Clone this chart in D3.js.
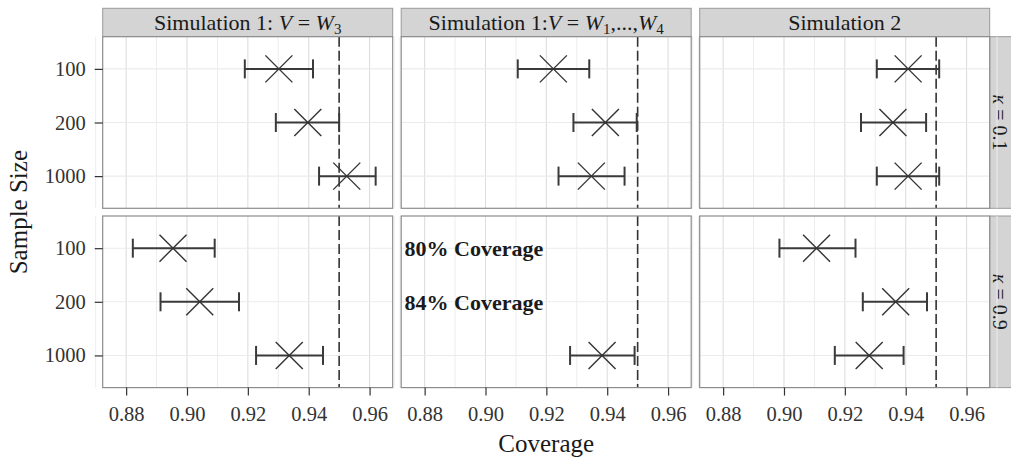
<!DOCTYPE html>
<html>
<head>
<meta charset="utf-8">
<script src="https://cdn.jsdelivr.net/npm/d3@7"></script>
<style>
  body { margin: 0; background: #fff; }
  svg text { font-family: "Liberation Serif", "DejaVu Serif", serif; }
</style>
</head>
<body>
<div id="chart"></div>
<script>
// sample sizes (y categories, top to bottom)
var sizes = ["100", "200", "1000"];
// facet columns and rows
var columns = ["sim1V3", "sim1V14", "sim2"];
var kappas = ["0.1", "0.9"];
var xTicks = [0.88, 0.90, 0.92, 0.94, 0.96];
var nominal = 0.95;

// kappa = 0.1, one array per column, values in the order of sizes
var estK01 = [[0.9302, 0.9397, 0.9525], [0.9223, 0.9394, 0.9348], [0.9408, 0.9358, 0.9408]];
var lowK01 = [[0.9190, 0.9292, 0.9434], [0.9106, 0.9289, 0.9240], [0.9305, 0.9253, 0.9305]];
var highK01 = [[0.9414, 0.9500, 0.9620], [0.9341, 0.9497, 0.9457], [0.9510, 0.9467, 0.9510]];
// kappa = 0.9
var estK09 = [[0.8954, 0.9042, 0.9336], [null, null, 0.9383], [0.9107, 0.9367, 0.9280]];
var lowK09 = [[0.8822, 0.8913, 0.9227], [null, null, 0.9278], [0.8985, 0.9259, 0.9167]];
var highK09 = [[0.9091, 0.9171, 0.9447], [null, null, 0.9490], [0.9235, 0.9470, 0.9393]];

// notes written in the empty rows of the middle bottom panel
var noteText = ["80% Coverage", "84% Coverage"];
var noteSize = ["100", "200"];

var W = 1011, H = 464;
var leftX = 102.7, topY = 8.3, stripH = 28.4;
var panelW = 290, gapX = 8.5, panelH = 171.6, gapY = 7.7, rStripW = 22;
var serif = "'Liberation Serif', 'DejaVu Serif', serif";

var svg = d3.select("#chart").append("svg")
    .attr("width", W)
    .attr("height", H)
    .attr("font-family", serif);

var rows = [
  {kappa: kappas[0], est: estK01, low: lowK01, high: highK01},
  {kappa: kappas[1], est: estK09, low: lowK09, high: highK09}
];

function panelX(c) { return leftX + c * (panelW + gapX); }
function panelY(r) { return topY + stripH + r * (panelH + gapY); }

// top strips
var stripG = svg.append("g");
columns.forEach(function(col, c) {
  var g = stripG.append("g").attr("transform", "translate(" + panelX(c) + "," + topY + ")");
  g.append("rect")
      .attr("width", panelW).attr("height", stripH)
      .attr("fill", "#d4d4d4").attr("stroke", "#9a9a9a").attr("stroke-width", 1);
  var t = g.append("text")
      .attr("x", panelW / 2).attr("y", stripH / 2 + 7.5)
      .attr("text-anchor", "middle")
      .attr("font-family", serif)
      .attr("font-size", 22).attr("fill", "#1a1a1a");
  if (c == 0) {
    t.append("tspan").text("Simulation 1: ");
    t.append("tspan").attr("font-style", "italic").text("V");
    t.append("tspan").text(" = ");
    t.append("tspan").attr("font-style", "italic").text("W");
    t.append("tspan").attr("font-size", 15).attr("dy", 4).text("3");
  } else if (c == 1) {
    t.append("tspan").text("Simulation 1:");
    t.append("tspan").attr("font-style", "italic").text("V");
    t.append("tspan").text(" = ");
    t.append("tspan").attr("font-style", "italic").text("W");
    t.append("tspan").attr("font-size", 15).attr("dy", 4).text("1");
    t.append("tspan").attr("dy", -4).text(",...,");
    t.append("tspan").attr("font-style", "italic").text("W");
    t.append("tspan").attr("font-size", 15).attr("dy", 4).text("4");
  } else {
    t.text("Simulation 2");
  }
});

// right strips
rows.forEach(function(row, r) {
  var x0 = panelX(2) + panelW;
  var g = svg.append("g").attr("transform", "translate(" + x0 + "," + panelY(r) + ")");
  g.append("rect")
      .attr("width", rStripW + 4).attr("height", panelH)
      .attr("fill", "#d4d4d4").attr("stroke", "#9a9a9a").attr("stroke-width", 1);
  var t = g.append("text")
      .attr("transform", "translate(" + (rStripW / 2 - 8) + "," + (panelH / 2) + ") rotate(90)")
      .attr("text-anchor", "middle")
      .attr("font-family", serif)
      .attr("font-size", 20).attr("fill", "#1a1a1a");
  t.append("tspan").attr("font-style", "italic").text("κ");
  t.append("tspan").text(" = " + row.kappa);
});

// panels
rows.forEach(function(row, r) {
  columns.forEach(function(col, c) {
    var px = panelX(c), py = panelY(r);

    var x = d3.scaleLinear().domain([0.8723, 0.9676]).range([px, px + panelW]);
    var y = d3.scalePoint().domain(sizes).range([py, py + panelH]).padding(0.6);

    var g = svg.append("g");

    g.append("rect")
        .attr("x", px).attr("y", py).attr("width", panelW).attr("height", panelH)
        .attr("fill", "#fff");

    // minor grid
    var minor = d3.range(0.87, 0.971, 0.02);
    g.append("g").selectAll("line")
      .data(minor)
      .enter().append("line")
        .attr("x1", function(d) { return x(d); }).attr("x2", function(d) { return x(d); })
        .attr("y1", py).attr("y2", py + panelH)
        .attr("stroke", "#ededed").attr("stroke-width", 1);
    // major grid
    g.append("g").selectAll("line")
      .data(xTicks)
      .enter().append("line")
        .attr("x1", function(d) { return x(d); }).attr("x2", function(d) { return x(d); })
        .attr("y1", py).attr("y2", py + panelH)
        .attr("stroke", "#dedede").attr("stroke-width", 1.1);
    g.append("g").selectAll("line")
      .data(sizes)
      .enter().append("line")
        .attr("x1", px).attr("x2", px + panelW)
        .attr("y1", function(d) { return y(d); }).attr("y2", function(d) { return y(d); })
        .attr("stroke", "#ebebeb").attr("stroke-width", 1.1);

    // nominal coverage line
    g.append("line")
        .attr("x1", x(nominal)).attr("x2", x(nominal))
        .attr("y1", py).attr("y2", py + panelH)
        .attr("stroke", "#333").attr("stroke-width", 1.6)
        .attr("stroke-dasharray", "10,4");

    var pts = sizes.map(function(s, i) {
      return {size: s, est: row.est[c][i], low: row.low[c][i], high: row.high[c][i]};
    }).filter(function(d) { return d.est != null; });

    var cap = 9.5, arm = 13.5;
    var bars = g.append("g").attr("stroke", "#3a3a3a").attr("stroke-width", 2);
    pts.forEach(function(d) {
      var yy = y(d.size);
      bars.append("line").attr("x1", x(d.low)).attr("x2", x(d.high)).attr("y1", yy).attr("y2", yy);
      bars.append("line").attr("x1", x(d.low)).attr("x2", x(d.low)).attr("y1", yy - cap).attr("y2", yy + cap);
      bars.append("line").attr("x1", x(d.high)).attr("x2", x(d.high)).attr("y1", yy - cap).attr("y2", yy + cap);
    });
    var marks = g.append("g").attr("stroke", "#333").attr("stroke-width", 1.4);
    pts.forEach(function(d) {
      var xx = x(d.est), yy = y(d.size);
      marks.append("line").attr("x1", xx - arm).attr("x2", xx + arm).attr("y1", yy - arm).attr("y2", yy + arm);
      marks.append("line").attr("x1", xx - arm).attr("x2", xx + arm).attr("y1", yy + arm).attr("y2", yy - arm);
    });

    if (r == 1 && c == 1) {
      g.append("g").selectAll("text")
        .data(noteText)
        .enter().append("text")
          .attr("x", x(0.8734))
          .attr("y", function(d, i) { return y(noteSize[i]); })
          .attr("dy", "0.35em")
          .attr("font-family", serif)
          .attr("font-size", 22).attr("font-weight", "bold").attr("fill", "#1a1a1a")
          .text(function(d) { return d; });
    }

    g.append("rect")
        .attr("x", px).attr("y", py).attr("width", panelW).attr("height", panelH)
        .attr("fill", "none").attr("stroke", "#8c8c8c").attr("stroke-width", 1.2);

    if (r == 1) {
      var ax = svg.append("g")
          .attr("transform", "translate(0," + (py + panelH) + ")")
          .call(d3.axisBottom(x).tickValues(xTicks).tickFormat(d3.format(".2f")).tickSize(8).tickPadding(11));
      ax.attr("font-family", serif).attr("font-size", null);
      ax.select(".domain").remove();
      ax.selectAll("line").attr("stroke", "#333").attr("stroke-width", 1.2);
      ax.selectAll("text").attr("font-family", serif).attr("font-size", 20.5).attr("fill", "#333");
    }
    if (c == 0) {
      var ay = svg.append("g")
          .attr("transform", "translate(" + px + ",0)")
          .call(d3.axisLeft(y).tickSize(8).tickPadding(9));
      ay.attr("font-family", serif).attr("font-size", null);
      ay.select(".domain").remove();
      ay.selectAll("line").attr("stroke", "#333").attr("stroke-width", 1.2);
      ay.selectAll("text").attr("font-family", serif).attr("font-size", 20.5).attr("fill", "#333");
    }
  });
});

// axis titles
svg.append("text")
    .attr("x", leftX + (3 * panelW + 2 * gapX) / 2).attr("y", 452)
    .attr("text-anchor", "middle")
    .attr("font-family", serif)
    .attr("font-size", 25).attr("fill", "#1a1a1a")
    .text("Coverage");

svg.append("text")
    .attr("transform", "translate(27," + (panelY(0) + panelH + gapY / 2) + ") rotate(-90)")
    .attr("text-anchor", "middle")
    .attr("font-family", serif)
    .attr("font-size", 25).attr("fill", "#1a1a1a")
    .text("Sample Size");
</script>
</body>
</html>
